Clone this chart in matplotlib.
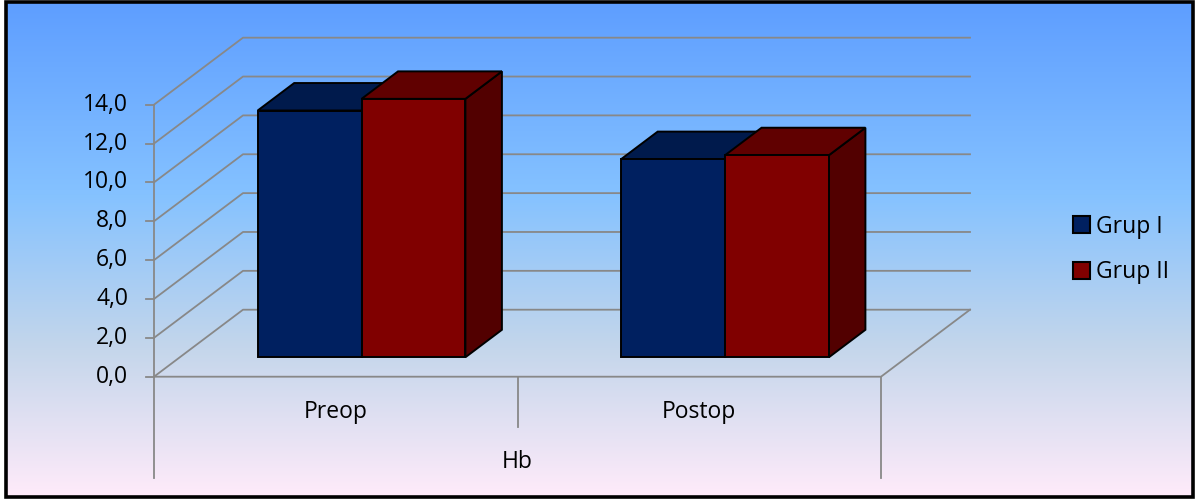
import numpy as np
import matplotlib
matplotlib.use('Agg')
import matplotlib.pyplot as plt
from matplotlib.colors import LinearSegmentedColormap
from matplotlib.patches import Polygon, Rectangle, Patch

categories = ['Preop', 'Postop']
series_names = ['Grup I', 'Grup II']
grup1 = [12.7, 10.2]
grup2 = [13.3, 10.4]
y_ticks = [0, 2, 4, 6, 8, 10, 12, 14]
axis_title = 'Hb'

front_colors = ['#002060', '#800000']
top_colors = ['#001a4c', '#600000']
side_colors = ['#00163f', '#520000']

plt.rcParams['font.family'] = ['Open Sans', 'DejaVu Sans']

W, H = 1197, 499
fig = plt.figure(figsize=(W / 100, H / 100), dpi=100)

# background gradient + frame
bg = fig.add_axes([0, 0, 1, 1])
bg.set_xlim(0, W)
bg.set_ylim(H, 0)
bg.axis('off')
cmap = LinearSegmentedColormap.from_list(
    'daybreak', [(0, '#5E9EFF'), (0.39, '#85C2FF'), (0.7, '#C4D6EB'), (1, '#FFEBFA')])
grad = np.linspace(0, 1, 256).reshape(-1, 1)
bg.imshow(grad, cmap=cmap, aspect='auto', extent=(6, 1192, 497, 2), origin='upper')
bg.add_patch(Rectangle((5.5, 1.5), 1187.5, 495.5, fill=False, ec='black', lw=2.6))

# main axes: x in categories, y in values
PX_X = 363.5
PX_Y = 19.43
X0, Y0 = 154, 376.7
ax = fig.add_axes([0, 0, 1, 1])
ax.set_xlim(-X0 / PX_X, (W - X0) / PX_X)
ax.set_ylim(-(H - Y0) / PX_Y, Y0 / PX_Y)
ax.axis('off')
ax.patch.set_alpha(0)

DX = 89 / PX_X
DY = 67 / PX_Y


def proj(x, y, d):
    return (x + d * DX, y + d * DY)


n = len(categories)
ymax = max(y_ticks)
grid_c = '#888888'
fs = 16.5

# side wall + back wall gridlines
for v in y_ticks:
    p0 = proj(0, v, 0)
    p1 = proj(0, v, 1)
    p2 = proj(n, v, 1)
    ax.plot([p0[0], p1[0], p2[0]], [p0[1], p1[1], p2[1]], color=grid_c, lw=1.3)
    ax.plot([-8 / PX_X, 0], [v, v], color=grid_c, lw=1.3)
    ax.text(-26 / PX_X, v, f'{v:.1f}'.replace('.', ','), ha='right', va='center', fontsize=fs)

# floor edges
pr = proj(n, 0, 1)
ax.plot([0, n, pr[0]], [0, 0, pr[1]], color=grid_c, lw=1.3)
ax.plot([0, 0], [0, ymax], color=grid_c, lw=1.3)

# category ticks
for i in range(n + 1):
    low = -5.2 if i in (0, n) else -2.59
    ax.plot([i, i], [0, low], color=grid_c, lw=1.3)
for i, c in enumerate(categories):
    ax.text(i + 0.5, -1.8, c, ha='center', va='center', fontsize=fs)
ax.text(n / 2, -4.37, axis_title, ha='center', va='center', fontsize=fs)

# bars
w = 1 / 3.5
d0, d1 = 0.29, 0.70
for i in range(n):
    for j, vals in enumerate([grup1, grup2]):
        v = vals[i]
        xl = i + 0.5 - w + j * w
        xr = xl + w
        front = [proj(xl, 0, d0), proj(xr, 0, d0), proj(xr, v, d0), proj(xl, v, d0)]
        top = [proj(xl, v, d0), proj(xr, v, d0), proj(xr, v, d1), proj(xl, v, d1)]
        side = [proj(xr, 0, d0), proj(xr, 0, d1), proj(xr, v, d1), proj(xr, v, d0)]
        for pts, col in [(side, side_colors[j]), (top, top_colors[j]), (front, front_colors[j])]:
            ax.add_patch(Polygon(pts, closed=True, fc=col, ec='black', lw=1.4, zorder=3))

handles = [Patch(fc=front_colors[j], ec='black', lw=1.5) for j in range(2)]
fig.legend(handles, series_names, loc='center left', bbox_to_anchor=(1073 / W, 0.5),
           frameon=False, fontsize=fs, handlelength=0.75, handleheight=0.75,
           handletextpad=0.25, labelspacing=0.95, borderpad=0, borderaxespad=0)

fig.savefig('out.png', dpi=100)
